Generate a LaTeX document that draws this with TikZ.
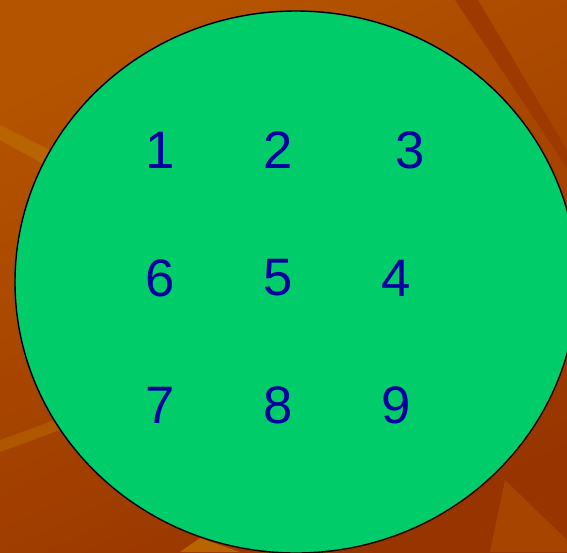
\documentclass[tikz,border=0pt]{standalone}
\usepackage{fontspec}
\setmainfont{Liberation Sans}
\definecolor{bgtop}{RGB}{180,84,0}
\definecolor{bgbot}{RGB}{152,52,0}
\definecolor{streakdark}{RGB}{158,58,0}
\definecolor{streaklight}{RGB}{184,100,0}
\definecolor{disc}{RGB}{0,204,106}
\definecolor{digit}{RGB}{0,0,160}
\tikzset{
  num/.style={text=digit, font=\fontsize{30}{36}\selectfont, inner sep=0pt},
  discfill/.style={fill=disc, draw=black, line width=0.8pt}
}
\begin{document}
\begin{tikzpicture}[x=0.02cm, y=-0.02cm]
    \useasboundingbox (0, 0) rectangle (567, 552);
    \clip (0, 0) rectangle (567, 552);

    % background
    \shade[top color=bgtop, bottom color=bgbot, shading angle=25] (0, 0) rectangle (567, 552);
    \fill[streakdark] (455, 0) -- (478, 0) -- (567, 150) -- (567, 168) -- cycle;
    \fill[streaklight] (0, 125) -- (50, 150) -- (45, 165) -- (0, 140) -- cycle;
    \fill[streaklight!70!bgbot] (0, 440) -- (60, 418) -- (60, 430) -- (0, 452) -- cycle;
    \fill[streaklight] (180, 552) -- (200, 538) -- (240, 552) -- cycle;
    \fill[streakdark!60!bgtop] (490, 552) -- (505, 480) -- (567, 540) -- (567, 552) -- cycle;

    % the disc
    \draw[discfill] (296, 282) ellipse [x radius=281, y radius=271];

    % Row 1
    \node[num] (n1) at (160, 150) {1}; \node[num] (n2) at (278, 150) {2}; \node[num] (n3) at (410, 150) {3};
    % Row 2
    \node[num] (n6) at (160, 278) {6}; \node[num] (n5) at (278, 278) {5}; \node[num] (n4) at (396, 278) {4};
    % Row 3
    \node[num] (n7) at (160, 405) {7}; \node[num] (n8) at (278, 405) {8}; \node[num] (n9) at (396, 405) {9};
\end{tikzpicture}
\end{document}
